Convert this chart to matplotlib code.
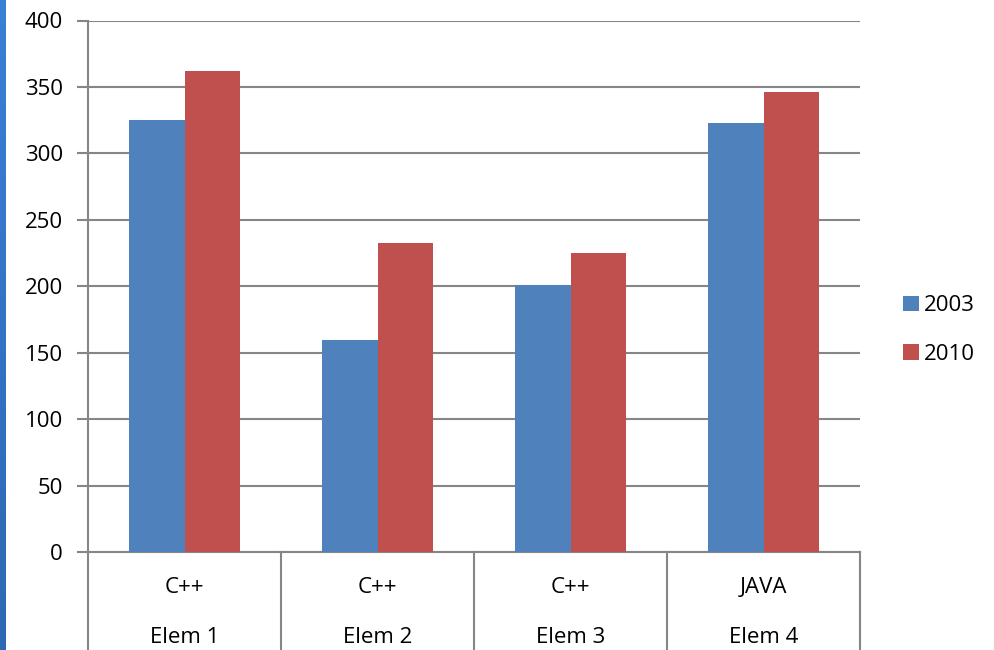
import matplotlib.pyplot as plt
import numpy as np
from matplotlib.colors import LinearSegmentedColormap

# chart data
languages = ["C++", "C++", "C++", "JAVA"]
elements = ["Elem 1", "Elem 2", "Elem 3", "Elem 4"]
series_names = ["2003", "2010"]
values_2003 = [325, 160, 201, 323]
values_2010 = [362, 233, 225, 346]

colors = ["#4F81BD", "#C0504D"]
grid_color = "#868686"
plt.rcParams['font.family'] = ['Open Sans', 'DejaVu Sans']
fs = 16

fig = plt.figure(figsize=(9.94, 6.5), dpi=100)
ax = fig.add_axes([88 / 994, 1 - 552.3 / 650, (860 - 88) / 994, (552.3 - 20.5) / 650])

# thin blue strip on the left edge
strip = fig.add_axes([0, 0, 6 / 994, 1])
grad = np.linspace(0, 1, 256).reshape(-1, 1)
cmap = LinearSegmentedColormap.from_list("strip", ["#3A80D6", "#2C68B4"])
strip.imshow(grad, aspect="auto", cmap=cmap)
strip.axis("off")

x = np.arange(len(elements))
width = 1 / 3.5
ax.bar(x - width / 2, values_2003, width, color=colors[0], label=series_names[0], zorder=3)
ax.bar(x + width / 2, values_2010, width, color=colors[1], label=series_names[1], zorder=3)

ax.set_xlim(-0.5, len(elements) - 0.5)
ax.set_ylim(0, 400)
ax.set_yticks(range(0, 401, 50))
ax.tick_params(axis='y', length=8, width=1.5, color=grid_color, labelsize=fs, pad=10)
ax.set_xticks([])

ax.grid(axis='y', color=grid_color, linewidth=1.5, zorder=0)
for s in ["top", "right"]:
    ax.spines[s].set_visible(False)
for s in ["left", "bottom"]:
    ax.spines[s].set_color(grid_color)
    ax.spines[s].set_linewidth(1.5)

# two-level category axis with divider lines running to the bottom
xtr = ax.get_xaxis_transform()
for b in np.arange(-0.5, len(elements), 1.0):
    ax.plot([b, b], [0, -0.2], transform=xtr, color=grid_color, linewidth=1.5,
            clip_on=False, zorder=1)
for i in range(len(elements)):
    ax.text(x[i], -0.067, languages[i], transform=xtr, ha='center', va='center', fontsize=fs)
    ax.text(x[i], -0.161, elements[i], transform=xtr, ha='center', va='center', fontsize=fs)

ax.legend(loc='center left', bbox_to_anchor=(1.03, 0.418), frameon=False,
          fontsize=fs, handlelength=0.7, handleheight=0.7, handletextpad=0.25,
          labelspacing=1.25)

fig.savefig("out.png", dpi=100)
